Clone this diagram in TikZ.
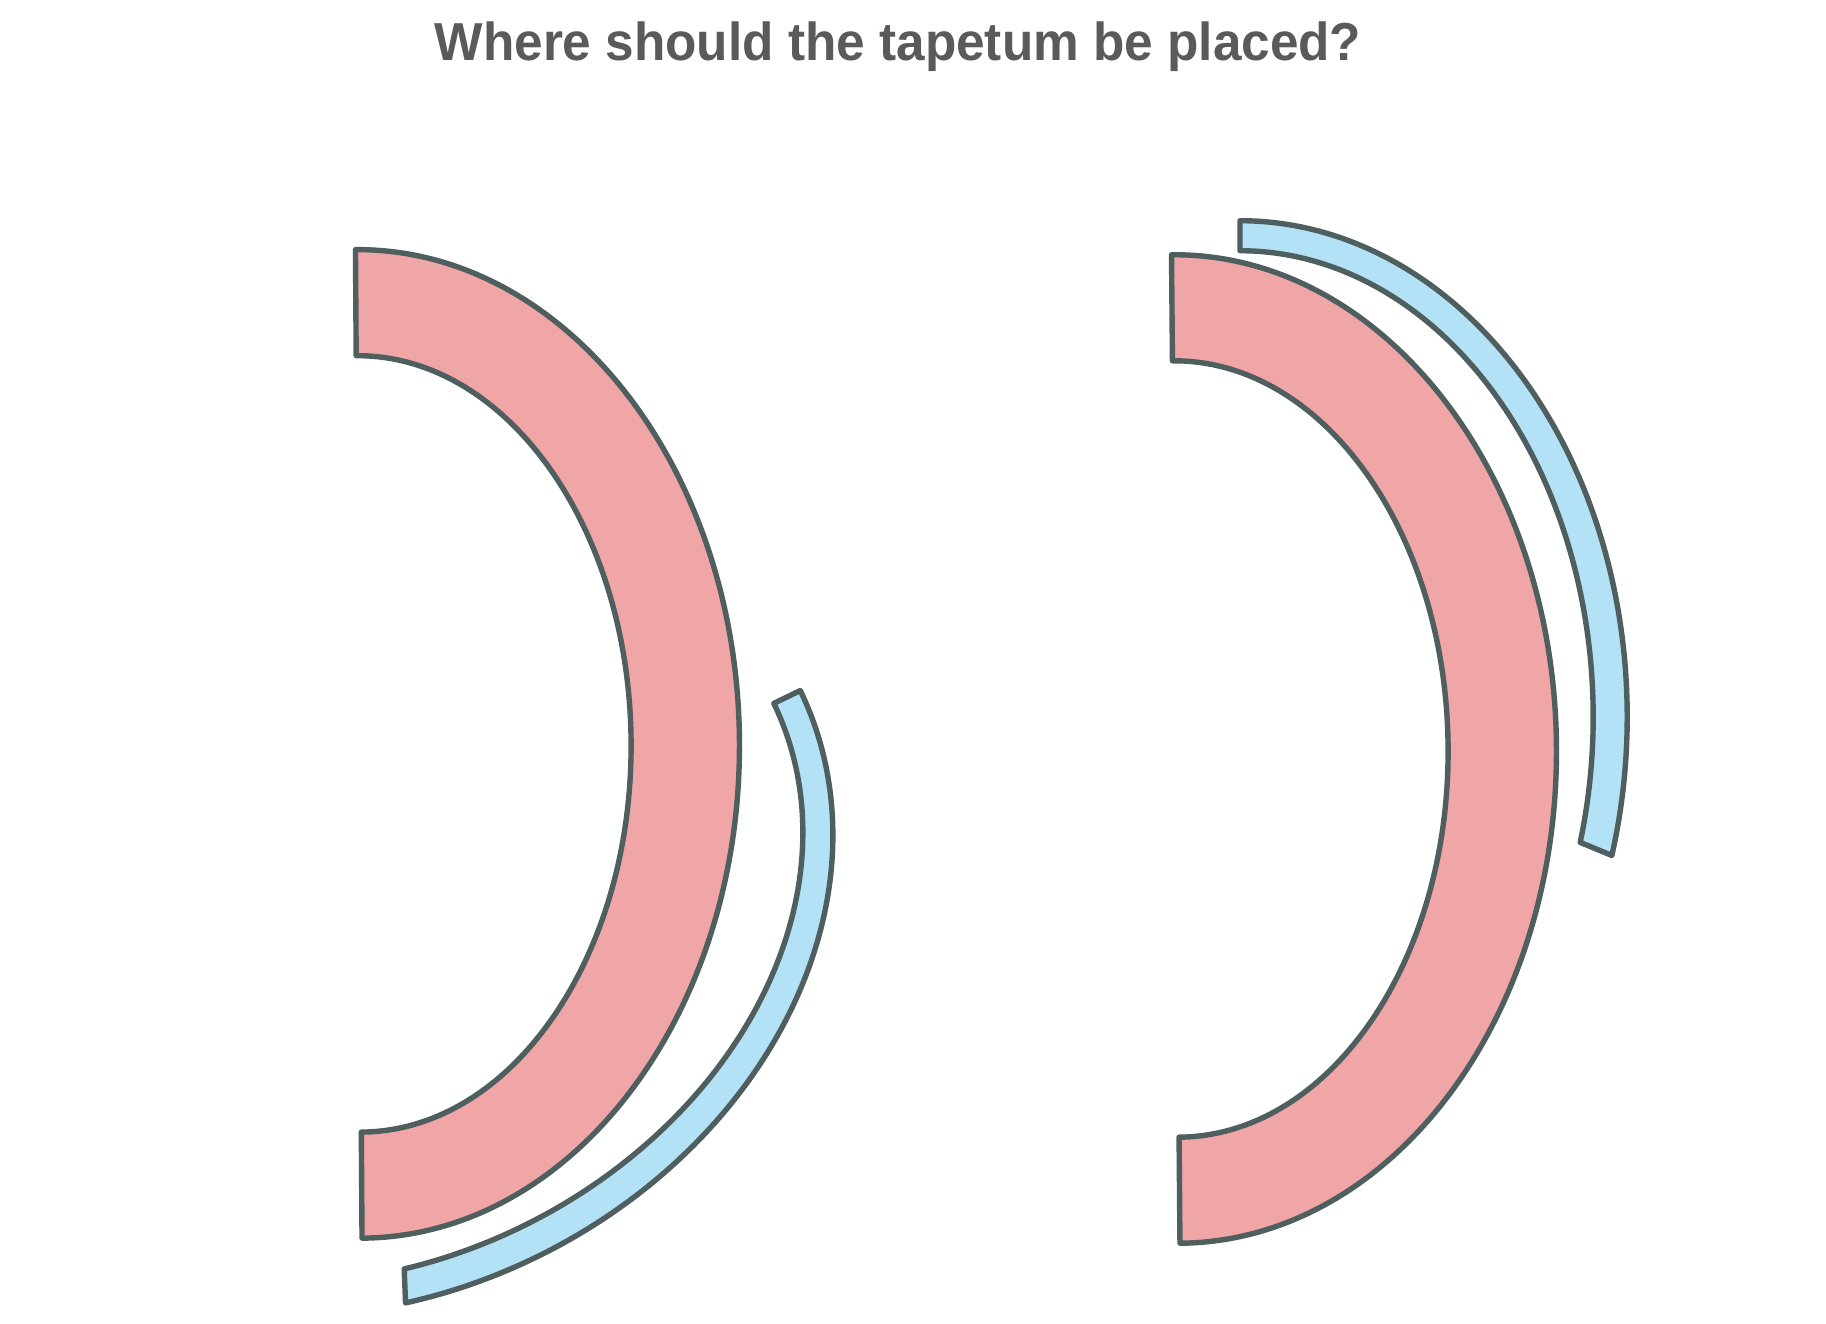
\documentclass[tikz,border=0pt]{standalone}
\usepackage{fontspec}
\setmainfont{Liberation Sans}
\definecolor{pinkc}{HTML}{F0A6A6}
\definecolor{bluec}{HTML}{B3E1F5}
\definecolor{strokec}{HTML}{4F5E5E}
\definecolor{titlec}{HTML}{5A5A5A}
\begin{document}
\begin{tikzpicture}[x=0.01cm,y=0.01cm,
  band/.style={draw=strokec, line width=0.054cm, line join=round},
  retina/.style={band, fill=pinkc},
  tapetum/.style={band, fill=bluec}]
\fill[white] (0,0) rectangle (1826,1323);
\useasboundingbox (0,0) rectangle (1826,1323);
\node[anchor=base, text=titlec, inner sep=0pt, xscale=0.96, font=\bfseries\fontsize{15.2pt}{18pt}\selectfont] (title) at (898,1262.5) {Where should the tapetum be placed?};

% left eye: retina
\begin{scope}[shift={(358.75,579.1)}, rotate=0.38]
\draw[retina] (90:3.805cm and 4.94cm)
  arc[start angle=90,end angle=-90,x radius=3.805cm,y radius=4.94cm]
  -- (-90:2.722cm and 3.88cm)
  arc[start angle=-90,end angle=90,x radius=2.722cm,y radius=3.88cm] -- cycle;
\end{scope}
% left eye: tapetum
\begin{scope}[shift={(362.5,420.8)}, rotate=-64.2]
\draw[tapetum] (90:3.95cm and 4.86cm)
  arc[start angle=90,end angle=-16.2,x radius=3.95cm,y radius=4.86cm]
  -- (-15.5:3.613cm and 4.566cm)
  arc[start angle=-15.5,end angle=90,x radius=3.613cm,y radius=4.566cm] -- cycle;
\end{scope}

% right eye: retina
\begin{scope}[shift={(1175.75,574.0)}, rotate=0.49]
\draw[retina] (90:3.805cm and 4.94cm)
  arc[start angle=90,end angle=-90,x radius=3.805cm,y radius=4.94cm]
  -- (-90:2.722cm and 3.88cm)
  arc[start angle=-90,end angle=90,x radius=2.722cm,y radius=3.88cm] -- cycle;
\end{scope}
% right eye: tapetum
\begin{scope}[shift={(1240,606)}]
\draw[tapetum] (90:3.87cm and 4.96cm)
  arc[start angle=90,end angle=-16.2,x radius=3.87cm,y radius=4.96cm]
  -- (-15.6:3.53cm and 4.66cm)
  arc[start angle=-15.6,end angle=90,x radius=3.53cm,y radius=4.66cm] -- cycle;
\end{scope}
\end{tikzpicture}
\end{document}
